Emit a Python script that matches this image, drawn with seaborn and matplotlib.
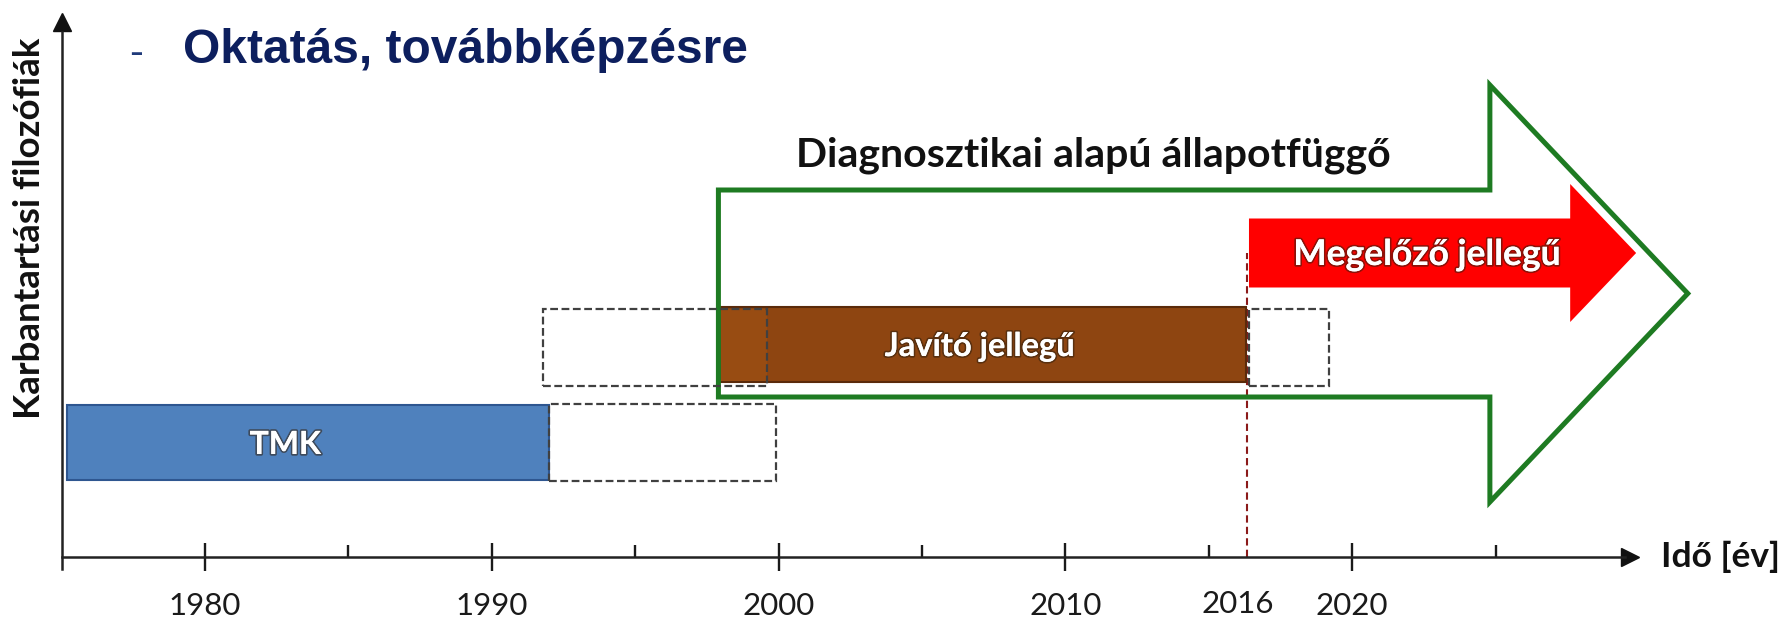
import matplotlib
matplotlib.use("Agg")
import matplotlib.pyplot as plt
import matplotlib.patheffects as pe
from matplotlib.patches import Polygon, Rectangle
import seaborn as sns

# Fázisok (sávok): név, kezdet, vég, szint
fazis_nev = ["TMK", "Javító jellegű"]
fazis_kezd = [1975.2, 1998.0]
fazis_veg = [1992.0, 2016.3]
fazis_szint = [1.145, 2.125]
fazis_szin = ["#4F81BD", "#8E4511"]
fazis_el = ["#2E5690", "#5A2A0A"]
sav_mag = 0.75

# Szaggatott "folytatás" dobozok
doboz_kezd = [1992.0, 1991.8, 2016.4]
doboz_veg = [1999.9, 1999.6, 2019.2]
doboz_szint = [1.145, 2.10, 2.10]

# Megelőző jellegű (piros nyíl)
piros_nev = "Megelőző jellegű"
piros_kezd, piros_fej, piros_csucs = 2016.4, 2027.6, 2029.9
piros_szint, piros_test, piros_fejmag = 3.04, 0.345, 0.69

# Diagnosztikai alapú állapotfüggő (zöld nyíl)
zold_nev = "Diagnosztikai alapú állapotfüggő"
zold_kezd, zold_fej, zold_csucs = 1997.9, 2024.8, 2031.7
zold_szint, zold_test, zold_fejmag = 2.635, 1.035, 2.085

# Tengely
evek_fo = [1980, 1990, 2000, 2010, 2020]
evek_mellek = [1985, 1995, 2005, 2015, 2025]
valtas_cimke = 2016
valtas_ev = 2016.33
tengely_kezd, tengely_veg = 1975.0, 2030.0

sns.set_theme(style="white")
plt.rcParams["font.family"] = ["Lato", "DejaVu Sans"]

fig = plt.figure(figsize=(17.87, 6.2), dpi=100)
ax = fig.add_axes([0, 0, 1, 1])
ax.set_xlim(1972.85, 2035.16)
ax.set_ylim(-0.63, 5.57)
ax.patch.set_alpha(0)

# tengelyek
for s in ["top", "right"]:
    ax.spines[s].set_visible(False)
ax.spines["bottom"].set_position(("data", 0))
ax.spines["left"].set_position(("data", tengely_kezd))
ax.spines["bottom"].set_bounds(tengely_kezd, tengely_veg - 0.5)
ax.spines["left"].set_bounds(-0.12, 5.25)
for s in ["bottom", "left"]:
    ax.spines[s].set_color("#222222")
    ax.spines[s].set_linewidth(1.8)
ax.plot(tengely_veg - 0.33, 0, marker=">", ms=13, color="#111111", clip_on=False)
ax.plot(tengely_kezd, 5.35, marker="^", ms=13, color="#111111", clip_on=False)

ax.set_xticks(evek_fo)
ax.set_xticklabels([str(e) for e in evek_fo])
ax.set_xticks(evek_mellek, minor=True)
ax.set_yticks([])
ax.tick_params(axis="x", which="major", direction="inout", length=20, width=1.7,
               color="#1a1a1a", labelsize=22.5, pad=15, labelcolor="#1a1a1a", bottom=True)
ax.tick_params(axis="x", which="minor", direction="in", length=8.5, width=1.7,
               color="#1a1a1a", bottom=True)
ax.annotate(str(valtas_cimke), xy=(valtas_cimke, 0), xytext=(0, -33.5),
            textcoords="offset points", ha="center", va="center", fontsize=22.5,
            color="#1a1a1a")
ax.text(tengely_veg + 0.75, 0, "Idő [év]", ha="left", va="center",
        fontsize=25.5, fontweight="bold", color="#111111")

arnyek = [pe.withStroke(linewidth=2.5, foreground="#30200f", alpha=0.55), pe.Normal()]

# zöld nyíl
zold = Polygon([(zold_kezd, zold_szint - zold_test), (zold_fej, zold_szint - zold_test),
                (zold_fej, zold_szint - zold_fejmag), (zold_csucs, zold_szint),
                (zold_fej, zold_szint + zold_fejmag), (zold_fej, zold_szint + zold_test),
                (zold_kezd, zold_szint + zold_test)], closed=True, fill=False,
               edgecolor="#1E7B22", linewidth=3.6, joinstyle="miter", zorder=4)
ax.add_patch(zold)
ax.text(2000.6, 4.02, zold_nev, ha="left", va="center", fontsize=29.5,
        fontweight="bold", color="#111111", zorder=6)

# sávok
ax.barh(fazis_szint, [v - k for k, v in zip(fazis_kezd, fazis_veg)], left=fazis_kezd,
        height=sav_mag, color=fazis_szin, edgecolor=fazis_el, linewidth=1.5, zorder=3)
# a javító sáv eleje kicsit világosabb, ahol a szaggatott doboz átfedi
ax.barh(fazis_szint[1], doboz_veg[1] - fazis_kezd[1], left=fazis_kezd[1], height=sav_mag - 0.03,
        color="#984C12", linewidth=0, zorder=3.5)
ax.text(1982.8, fazis_szint[0] - 0.02, fazis_nev[0], ha="center", va="center",
        fontsize=23, fontweight="bold", color="white", path_effects=arnyek, zorder=6)
ax.text(2007.0, fazis_szint[1] - 0.02, fazis_nev[1], ha="center", va="center",
        fontsize=23.5, fontweight="bold", color="white", path_effects=arnyek, zorder=6)

# szaggatott dobozok
for k, v, y in zip(doboz_kezd, doboz_veg, doboz_szint):
    ax.add_patch(Rectangle((k, y - 0.385), v - k, 0.77, fill=False, edgecolor="#404040",
                           linewidth=1.6, linestyle=(0, (3.5, 1.6)), zorder=5))

# váltás éve
ax.plot([valtas_ev, valtas_ev], [0, piros_szint], color="#8B1A1A", linewidth=1.5,
        linestyle=(0, (3.5, 2)), zorder=2)

# piros nyíl
piros = Polygon([(piros_kezd, piros_szint - piros_test), (piros_fej, piros_szint - piros_test),
                 (piros_fej, piros_szint - piros_fejmag), (piros_csucs, piros_szint),
                 (piros_fej, piros_szint + piros_fejmag), (piros_fej, piros_szint + piros_test),
                 (piros_kezd, piros_szint + piros_test)], closed=True,
                facecolor="#FF0000", edgecolor="none", zorder=5)
ax.add_patch(piros)
ax.text(2022.6, piros_szint - 0.02, piros_nev, ha="center", va="center", fontsize=25.5,
        fontweight="bold", color="white", path_effects=arnyek, zorder=6)

# címek
fig.text(113 / 1568, 1 - 47 / 544, "-", ha="left", va="center", fontsize=30,
         color="#1F3A7A", family=["Liberation Sans", "DejaVu Sans"])
fig.text(183 / 1787, 1 - 63 / 620, "Oktatás, továbbképzésre", ha="left", va="baseline",
         fontsize=34.5, fontweight="bold", color="#0D1F5E",
         family=["Liberation Sans", "DejaVu Sans"])
fig.text(30 / 1787, 1 - 228 / 620, "Karbantartási filozófiák", rotation=90,
         ha="center", va="center", fontsize=26.5, fontweight="bold", color="#111111")

fig.savefig("out.png", dpi=100)
